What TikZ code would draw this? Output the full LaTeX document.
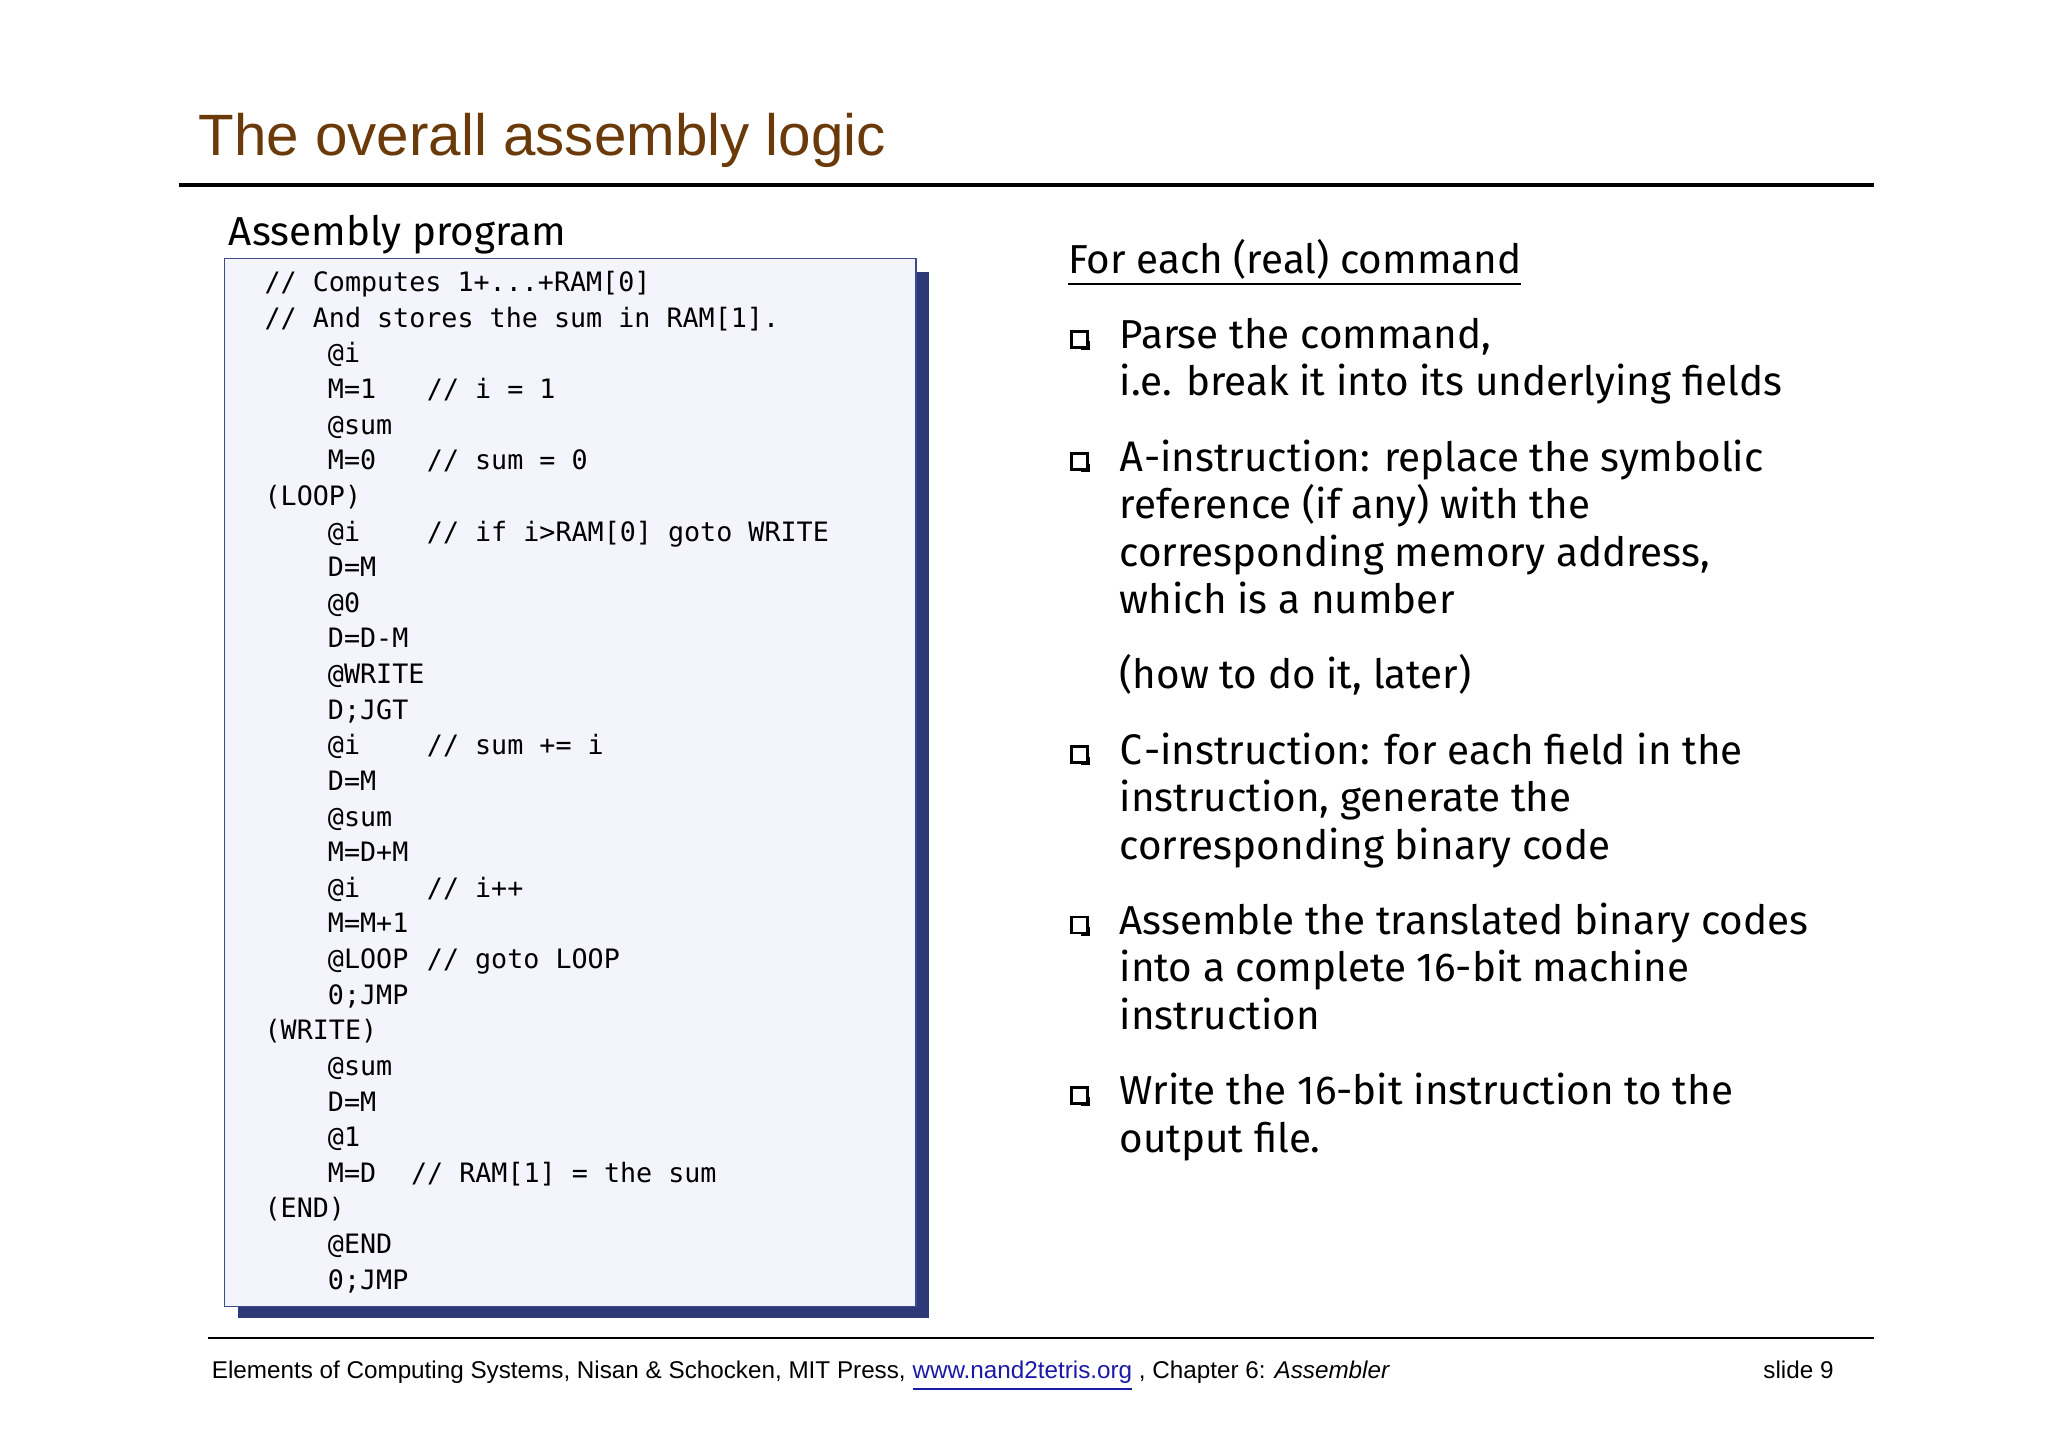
\documentclass[tikz,border=0pt]{standalone}
\usepackage{fontspec}
\setmainfont{Liberation Sans}
\setmonofont{DejaVu Sans Mono}
\newfontfamily\handfont{Fira Sans}
\usetikzlibrary{positioning}
\definecolor{titlebrown}{HTML}{6B3A0A}
\definecolor{codebg}{HTML}{F4F4FC}
\definecolor{codeframe}{HTML}{3A4A8C}
\definecolor{codeshadow}{HTML}{2E3A78}
\definecolor{linkblue}{HTML}{1A1AA6}
\tikzset{
  codeline/.style={anchor=base west,inner sep=0pt,font=\ttfamily\fontsize{7.6}{9}\selectfont},
  bodyline/.style={anchor=base west,inner sep=0pt,font=\handfont\fontsize{11.5}{14}\selectfont},
  bulletbox/.style={draw=black,thick,minimum size=0.16cm,inner sep=0pt}
}
\begin{document}
\begin{tikzpicture}[x=0.013196cm,y=-0.013196cm]
    \useasboundingbox (0,0) rectangle (1552,1096.6);

    % title
    \node (title) [anchor=base west,inner sep=0pt,text=titlebrown,font=\fontsize{16.6}{20}\selectfont] at (150,118) {The overall assembly logic};
    \draw [line width=1.1pt] (136,140) -- (1420,140);

    % code box
    \node (codehead) [bodyline] at (173,186) {Assembly program};
    \fill [codeshadow] (180,206) rectangle (704,999);
    \draw [codeframe,fill=codebg,thin] (170,196) rectangle (694,990);
    \foreach \i/\x/\t/\cx/\c in {
        0/200/{// Computes 1+...+RAM[0]}/0/{},
        1/200/{// And stores the sum in RAM[1].}/0/{},
        2/248/{@i}/0/{},
        3/248/{M=1}/323/{// i = 1},
        4/248/{@sum}/0/{},
        5/248/{M=0}/323/{// sum = 0},
        6/200/{(LOOP)}/0/{},
        7/248/{@i}/323/{// if i>RAM[0] goto WRITE},
        8/248/{D=M}/0/{},
        9/248/{@0}/0/{},
        10/248/{D=D-M}/0/{},
        11/248/{@WRITE}/0/{},
        12/248/{D;JGT}/0/{},
        13/248/{@i}/323/{// sum += i},
        14/248/{D=M}/0/{},
        15/248/{@sum}/0/{},
        16/248/{M=D+M}/0/{},
        17/248/{@i}/323/{// i++},
        18/248/{M=M+1}/0/{},
        19/248/{@LOOP}/323/{// goto LOOP},
        20/248/{0;JMP}/0/{},
        21/200/{(WRITE)}/0/{},
        22/248/{@sum}/0/{},
        23/248/{D=M}/0/{},
        24/248/{@1}/0/{},
        25/248/{M=D}/311/{// RAM[1] = the sum},
        26/200/{(END)}/0/{},
        27/248/{@END}/0/{},
        28/248/{0;JMP}/0/{}} {
        \node (code\i) [codeline] at (\x,221+27*\i) {\t};
        \ifnum\cx>0
            \node (note\i) [codeline] at (\cx,221+27*\i) {\c};
        \fi
    }

    % right column
    \node (head) [bodyline] at (809,207) {\underline{For each (real) command}};
    \foreach \y/\t in {
        264/{Parse the command,},
        300/{i.e. break it into its underlying fields},
        357/{{\ttfamily A}-instruction: replace the symbolic},
        393/{reference (if any) with the},
        429/{corresponding memory address,},
        465/{which is a number},
        522/{(how to do it, later)},
        579/{{\ttfamily C}-instruction: for each field in the},
        615/{instruction, generate the},
        651/{corresponding binary code},
        708/{Assemble the translated binary codes},
        744/{into a complete 16-bit machine},
        780/{instruction},
        837/{Write the 16-bit instruction to the},
        873/{output file.}} {
        \node (line\y) [bodyline] at (848,\y) {\t};
    }
    \foreach \y in {257,350,572,701,830} {
        \fill (819.5,\y+1.5) rectangle (826,\y+8);
        \node (box\y) [bulletbox,fill=white] at (818,\y) {};
    }

    % footer
    \draw [thin] (158,1014) -- (1420,1014);
    \node (foot) [anchor=base west,inner sep=0pt,font=\fontsize{6.9}{8}\selectfont] at (160,1045)
        {Elements of Computing Systems, Nisan \& Schocken, MIT Press, \textcolor{linkblue}{\underline{www.nand2tetris.org}} , Chapter 6: \textit{Assembler}};
    \node (slide) [anchor=base east,inner sep=0pt,font=\fontsize{6.9}{8}\selectfont] at (1390,1045) {slide 9};
\end{tikzpicture}
\end{document}
